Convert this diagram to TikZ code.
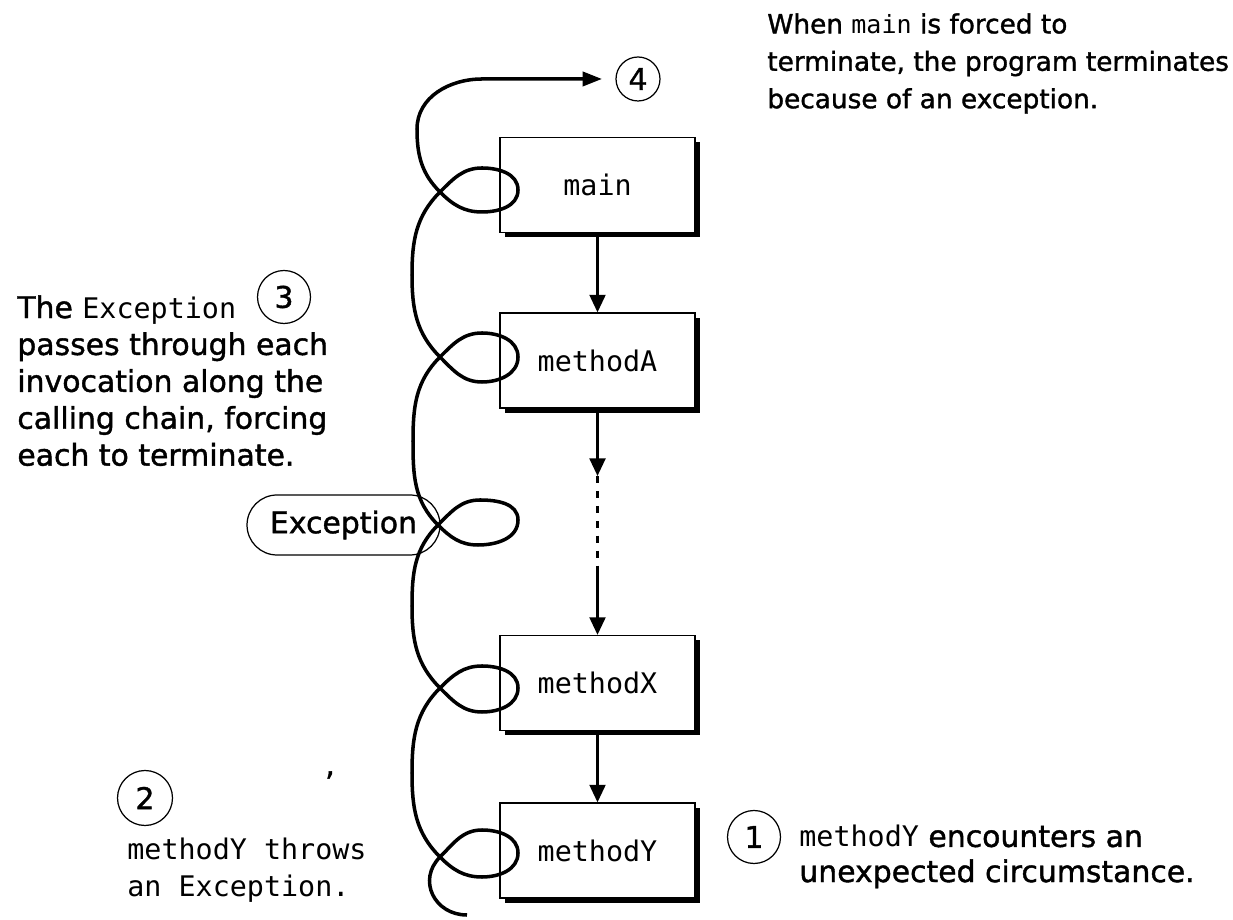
\documentclass[tikz,border=0pt]{standalone}
\usepackage{fontspec}
\setmainfont[FakeBold=1.3]{DejaVu Sans}
\setmonofont[Scale=0.95]{DejaVu Sans Mono}
\usetikzlibrary{arrows.meta, positioning, shadows}

\newcommand{\notefont}{\fontsize{17}{21}\selectfont}
\newcommand{\topfont}{\fontsize{15}{21.3}\selectfont}

\begin{document}
\begin{tikzpicture}[
    x=0.02cm, y=0.02cm,
    method/.style={draw, fill=white, line width=0.7pt, minimum width=3.9cm, minimum height=1.9cm,
      font=\notefont\ttfamily, drop shadow={shadow xshift=2.8pt, shadow yshift=-2.8pt, opacity=1, fill=black}},
    flow/.style={-{Triangle[length=10pt, width=9pt]}, line width=1.5pt},
    thread/.style={line width=2pt},
    token/.style={draw, rounded corners=0.6cm, minimum width=3.86cm, minimum height=1.2cm, line width=0.7pt, font=\notefont},
    num/.style={draw, circle, line width=0.7pt, minimum size=1.06cm, inner sep=0pt, font=\notefont},
    note/.style={anchor=north west, inner sep=0pt, align=left, font=\notefont},
]
    \useasboundingbox (0,0) rectangle (1233,919);

    % Calling chain
    \node[method] (main) at (597.5,734) {main};
    \node[method] (mA) at (597.5,558.5) {methodA};
    \node[method] (mX) at (597.5,236) {methodX};
    \node[method] (mY) at (597.5,68.5) {methodY};

    \coordinate (d1) at (597.5,443);
    \coordinate (d2) at (597.5,351);
    \draw[flow] (main) -- (mA);
    \draw[flow] (mA) -- (d1);
    \draw[line width=2.2pt, dash pattern=on 4pt off 4.5pt] (d1) -- (d2);
    \draw[flow] (d2) -- (mX);
    \draw[flow] (mX) -- (mY);

    % Exception object
    \node[token] (exc) at (343.5,394) {Exception};

    % Path of the exception
    \coordinate (tail) at (467,4);
    \coordinate (cy) at (440,62);
    \coordinate (cx) at (440,231);
    \coordinate (ce) at (438,394);
    \coordinate (ca) at (440,562);
    \coordinate (cm) at (440,727);
    \coordinate (tip4) at (602,840);
    \draw[thread, -{Triangle[length=11pt, width=8pt]}]
      (tail) to[out=180, in=-135, looseness=1.3] (cy)
      to[out=45, in=180] ++(42,27) to[out=0, in=90] ++(36,-23) to[out=-90, in=0] ++(-36,-24) to[out=180, in=-45] (cy)
      to[out=135, in=-90] (412,146) to[out=90, in=-135] (cx)
      to[out=45, in=180] ++(42,22) to[out=0, in=90] ++(36,-22) to[out=-90, in=0] ++(-36,-24) to[out=180, in=-45] (cx)
      to[out=135, in=-90] (412,313) to[out=90, in=-135] (ce)
      to[out=45, in=180] ++(42,25) to[out=0, in=90] ++(38,-20) to[out=-90, in=0] ++(-40,-25) to[out=180, in=-45] (ce)
      to[out=135, in=-90] (413,478) to[out=90, in=-135] (ca)
      to[out=45, in=180] ++(42,24) to[out=0, in=90] ++(36,-24) to[out=-90, in=0] ++(-36,-25) to[out=180, in=-45] (ca)
      to[out=135, in=-90] (412,644) to[out=90, in=-135] (cm)
      to[out=45, in=180] ++(42,24) to[out=0, in=90] ++(36,-22) to[out=-90, in=0] ++(-36,-22) to[out=180, in=-45] (cm)
      to[out=135, in=-90] (417,790) to[out=90, in=180] (482,840) -- (tip4);

    % Steps
    \node[num, minimum size=0.88cm] (n4) at (638,840) {4};
    \node[note, font=\topfont] (t4) at (767,906) {When \texttt{main} is forced to\\terminate, the program terminates\\because of an exception.};

    \node[num] (n3) at (284,622) {3};
    \node[note] (t3) at (17,624) {The \texttt{Exception}\\passes through each\\invocation along the\\calling chain, forcing\\each to terminate.};

    \node[num, minimum size=1.1cm] (n2) at (145,121) {2};
    \node[note, font=\notefont\ttfamily] (t2) at (127,81) {methodY throws\\an Exception.};
    \node[font=\notefont] (tick) at (330,144) {,};

    \node[num] (n1) at (754,82) {1};
    \node[note, font=\fontsize{17}{20}\selectfont] (t1) at (799,94) {\texttt{methodY} encounters an\\unexpected circumstance.};

\end{tikzpicture}
\end{document}
